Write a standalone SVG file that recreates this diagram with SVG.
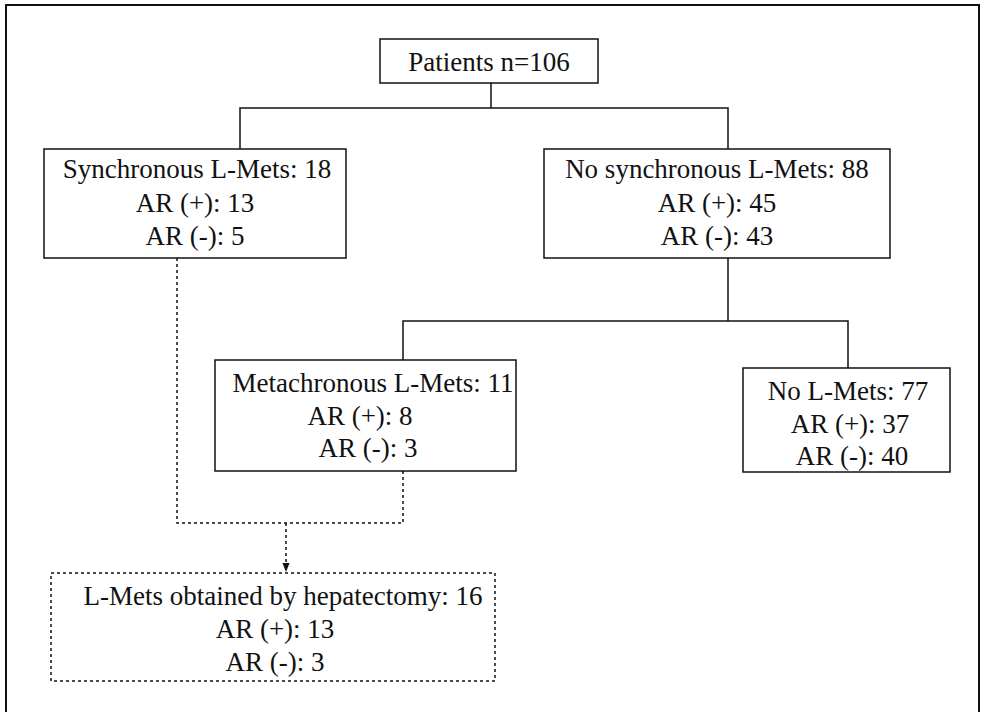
<svg xmlns="http://www.w3.org/2000/svg" width="985" height="712" viewBox="0 0 985 712">
<style>
  .box { fill: #ffffff; stroke: #111; stroke-width: 1.5; }
  .dbox { fill: #ffffff; stroke: #111; stroke-width: 1.5; stroke-dasharray: 3 3; }
  .ln { fill: none; stroke: #111; stroke-width: 1.5; }
  .dln { fill: none; stroke: #111; stroke-width: 1.5; stroke-dasharray: 3 3; }
  text { font-family: "Liberation Serif", "Times New Roman", serif; font-size: 27px; fill: #111; text-anchor: middle; }
</style>
<defs>
  <marker id="arr" viewBox="0 0 10 10" refX="9" refY="5" markerWidth="6" markerHeight="6" orient="auto">
    <path d="M0,1 L10,5 L0,9 z" fill="#111"/>
  </marker>
</defs>
<rect width="985" height="712" fill="#ffffff"/>
<rect x="6" y="5" width="973" height="730" fill="none" stroke="#111" stroke-width="2"/>
<g id="connectors">
  <path class="ln" d="M491,83 V108 M240,149 V108 H728 V149"/>
  <path class="ln" d="M728,258 V321 M403,360 V321 H848 V368"/>
  <path class="dln" d="M177,258 V523 H403 V471"/>
  <path class="dln" d="M286,523 V571" marker-end="url(#arr)"/>
</g>
<g id="patients">
  <rect class="box" x="380" y="39" width="218" height="44"/>
  <text x="489" y="71">Patients n=106</text>
</g>
<g id="synchronous">
  <rect class="box" x="44" y="149" width="302" height="109"/>
  <text x="197" y="178">Synchronous L-Mets: 18</text>
  <text x="195" y="212">AR (+): 13</text>
  <text x="195" y="245">AR (-): 5</text>
</g>
<g id="no-synchronous">
  <rect class="box" x="544" y="149" width="346" height="109"/>
  <text x="717" y="178">No synchronous L-Mets: 88</text>
  <text x="717" y="212">AR (+): 45</text>
  <text x="717" y="245">AR (-): 43</text>
</g>
<g id="metachronous">
  <rect class="box" x="215" y="360" width="301" height="111"/>
  <text x="373" y="392">Metachronous L-Mets: 11</text>
  <text x="360" y="425">AR (+): 8</text>
  <text x="368" y="457">AR (-): 3</text>
</g>
<g id="no-lmets">
  <rect class="box" x="743" y="368" width="207" height="104"/>
  <text x="848" y="400">No L-Mets: 77</text>
  <text x="850" y="433">AR (+): 37</text>
  <text x="852" y="465">AR (-): 40</text>
</g>
<g id="hepatectomy">
  <rect class="dbox" x="51" y="573" width="444" height="108"/>
  <text x="283" y="605">L-Mets obtained by hepatectomy: 16</text>
  <text x="275" y="638">AR (+): 13</text>
  <text x="275" y="671">AR (-): 3</text>
</g>
</svg>
